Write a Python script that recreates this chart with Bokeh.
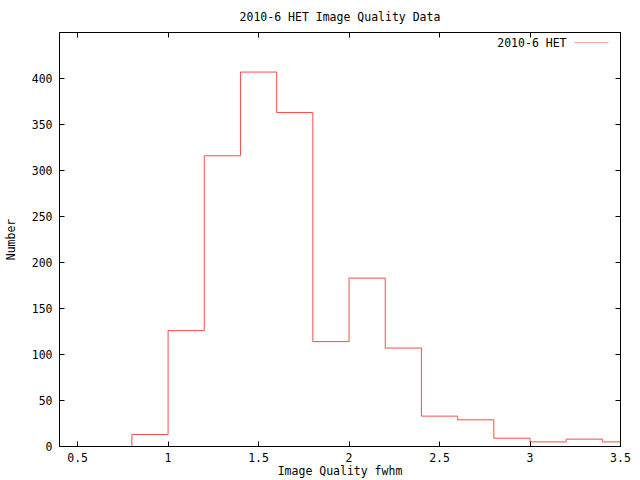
from bokeh.plotting import figure
from bokeh.models import (Range1d, LinearAxis, FixedTicker, CustomJSTickFormatter,
                          Label, BoxAnnotation)
from bokeh.embed import file_html
from bokeh.resources import INLINE

# ---- data ----
bin_left = [0.8, 1.0, 1.2, 1.4, 1.6, 1.8, 2.0, 2.2, 2.4, 2.6, 2.8, 3.0, 3.2, 3.4]
bin_width = 0.2
counts = [13, 126, 316, 407, 363, 114, 183, 107, 33, 29, 9, 5, 8, 5]
x_ticks = [0.5, 1.0, 1.5, 2.0, 2.5, 3.0, 3.5]
y_ticks = [0, 50, 100, 150, 200, 250, 300, 350, 400]
title_text = "2010-6 HET Image Quality Data"
x_label = "Image Quality fwhm"
y_label = "Number"
series_name = "2010-6 HET"

FONT = "DejaVu Sans Mono"
FS = "11.5px"
RED = "#ff4a4a"

p = figure(width=640, height=480, output_backend="svg", toolbar_location=None,
           x_range=Range1d(0.4, 3.5), y_range=Range1d(0, 450),
           x_axis_location=None, y_axis_location=None,
           min_border_left=58, min_border_right=20, min_border_top=32,
           min_border_bottom=34)
p.xgrid.grid_line_color = None
p.ygrid.grid_line_color = None
p.outline_line_color = "black"
p.outline_line_width = 1
p.background_fill_color = "white"
p.border_fill_color = "white"

# step (histeps) line built from bins
sx = [bin_left[0]]
sy = [0]
for lo, c in zip(bin_left, counts):
    sx.append(lo)
    sy.append(c)
sx.append(bin_left[-1] + bin_width)
sy.append(counts[-1])
p.step(sx, sy, mode="after", line_color=RED, line_width=1)

num_fmt = CustomJSTickFormatter(code="return String(tick)")
blank_fmt = CustomJSTickFormatter(code="return ''")

def style(ax, labels):
    ax.major_tick_in = 5
    ax.major_tick_out = 0
    ax.minor_tick_in = 0
    ax.minor_tick_out = 0
    ax.axis_line_color = "black"
    ax.major_tick_line_color = "black"
    ax.major_label_text_font = FONT
    ax.major_label_text_font_size = FS
    ax.major_label_text_color = "black"
    ax.axis_label_text_font = FONT
    ax.axis_label_text_font_size = FS
    ax.axis_label_text_font_style = "normal"
    ax.axis_label_text_color = "black"
    if labels:
        ax.formatter = num_fmt
        ax.major_label_standoff = 7
    else:
        ax.formatter = blank_fmt
        ax.major_label_standoff = 0

bx = LinearAxis(ticker=FixedTicker(ticks=x_ticks), axis_label=x_label)
style(bx, True)
bx.major_label_standoff = 6
bx.axis_label_standoff = -1
p.add_layout(bx, "below")
# top mirror axis; its label carries the chart title
tx = LinearAxis(ticker=FixedTicker(ticks=x_ticks), axis_label=title_text)
style(tx, False)
tx.axis_label_standoff = 9
p.add_layout(tx, "above")
ly = LinearAxis(ticker=FixedTicker(ticks=y_ticks), axis_label=y_label)
style(ly, True)
ly.axis_label_standoff = 11
p.add_layout(ly, "left")
ry = LinearAxis(ticker=FixedTicker(ticks=y_ticks))
style(ry, False)
p.add_layout(ry, "right")

# key (screen units, origin at frame bottom-left)
p.add_layout(Label(x=507, y=404, x_units="screen", y_units="screen", text=series_name,
                   text_font=FONT, text_font_size=FS, text_align="right",
                   text_baseline="middle", text_color="black"))
p.add_layout(BoxAnnotation(left=515, right=549, bottom=404, top=404,
                           left_units="screen", right_units="screen",
                           bottom_units="screen", top_units="screen",
                           fill_alpha=0, line_color=RED, line_width=1))

open("out.html", "w").write(file_html(p, INLINE))
